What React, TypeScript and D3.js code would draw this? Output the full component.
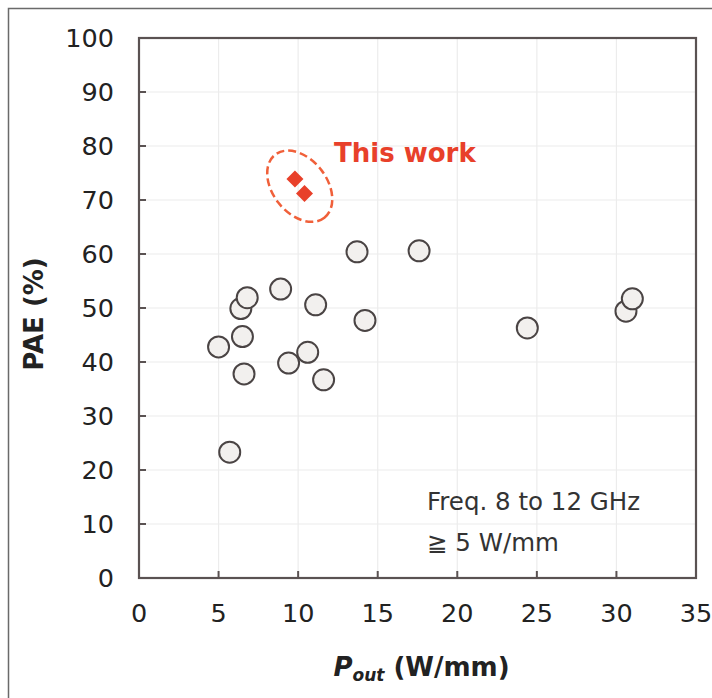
import React from 'react'
import { scaleLinear } from 'd3'

// reference devices (Pout W/mm, PAE %)
const otherPout = [5.0, 5.7, 6.4, 6.8, 6.5, 6.6, 8.9, 9.4, 10.6, 11.1, 11.6, 13.7, 14.2, 17.6, 24.4, 30.6, 31.0]
const otherPae = [42.8, 23.3, 49.9, 51.9, 44.7, 37.8, 53.5, 39.8, 41.8, 50.6, 36.7, 60.4, 47.7, 60.6, 46.3, 49.4, 51.7]

// this work
const thisPout = [9.8, 10.4]
const thisPae = [73.9, 71.2]

const xTicks = [0, 5, 10, 15, 20, 25, 30, 35]
const yTicks = [0, 10, 20, 30, 40, 50, 60, 70, 80, 90, 100]

const noteLines = ['Freq. 8 to 12 GHz', '\u2267 5 W/mm']

const W = 712
const H = 698
const margin = { left: 139, right: 16, top: 38, bottom: 120 }

const font = '"DejaVu Sans", sans-serif'
const axisColor = '#5a5252'
const red = '#e8402a'

function App() {
  const xScale = scaleLinear().domain([0, 35]).range([margin.left, W - margin.right])
  const yScale = scaleLinear().domain([0, 100]).range([H - margin.bottom, margin.top])

  const x0 = xScale(0), x1 = xScale(35)
  const y0 = yScale(0), y1 = yScale(100)

  const cx = xScale((thisPout[0] + thisPout[1]) / 2)
  const cy = yScale((thisPae[0] + thisPae[1]) / 2)

  return (
    <svg width={W} height={H} style={{ position: 'absolute', left: 0, top: 0, background: '#fff' }}>
      {/* outer frame */}
      <rect x={8.5} y={8.5} width={W + 20} height={H + 20} fill="none" stroke="#6a6a6a" strokeWidth={1.5} />

      {/* grid */}
      <g stroke="#ececec" strokeWidth={1.2}>
        {xTicks.slice(1, -1).map(t => (
          <line key={'gx' + t} x1={xScale(t)} x2={xScale(t)} y1={y0} y2={y1} />
        ))}
        {yTicks.slice(1, -1).map(t => (
          <line key={'gy' + t} x1={x0} x2={x1} y1={yScale(t)} y2={yScale(t)} />
        ))}
      </g>

      {/* ticks */}
      <g stroke={axisColor} strokeWidth={2}>
        {xTicks.slice(1, -1).map(t => (
          <line key={'tx' + t} x1={xScale(t)} x2={xScale(t)} y1={y0} y2={y0 - 7} />
        ))}
        {yTicks.slice(1, -1).map(t => (
          <line key={'ty' + t} x1={x0} x2={x0 + 7} y1={yScale(t)} y2={yScale(t)} />
        ))}
      </g>

      <rect x={x0} y={y1} width={x1 - x0} height={y0 - y1} fill="none" stroke={axisColor} strokeWidth={2.2} />

      {/* tick labels */}
      <g fontFamily={font} fontSize={25.5} fill="#222">
        {xTicks.map(t => (
          <text key={'lx' + t} x={xScale(t)} y={y0 + 44} textAnchor="middle">{t}</text>
        ))}
        {yTicks.map(t => (
          <text key={'ly' + t} x={x0 - 25} y={yScale(t)} dy="0.36em" textAnchor="end">{t}</text>
        ))}
      </g>

      {/* axis titles */}
      <text x={(x0 + x1) / 2 + 4} y={676} textAnchor="middle" fontFamily={font} fontWeight="bold" fontSize={26} fill="#222">
        <tspan fontStyle="italic">P</tspan>
        <tspan fontStyle="italic" fontSize={17} dy={5}>out</tspan>
        <tspan dy={-5}> (W/mm)</tspan>
      </text>
      <text transform={`translate(34,${(y0 + y1) / 2 + 6}) rotate(-90)`} textAnchor="middle" dy="0.36em"
        fontFamily={font} fontWeight="bold" fontSize={26} fill="#222">PAE (%)</text>

      {/* other devices */}
      <g fill="#f2f0ee" stroke="#4a4444" strokeWidth={2}>
        {otherPout.map((p, i) => (
          <circle key={'c' + i} cx={xScale(p)} cy={yScale(otherPae[i])} r={10.5} />
        ))}
      </g>

      {/* this work */}
      <ellipse cx={cx} cy={cy} rx={40} ry={27} transform={`rotate(52,${cx},${cy})`}
        fill="none" stroke="#f0603a" strokeWidth={2.5} strokeDasharray="8 4" />
      <g fill={red}>
        {thisPout.map((p, i) => {
          const px = xScale(p), py = yScale(thisPae[i]), s = 8.5
          return <path key={'d' + i} d={`M${px},${py - s}L${px + s},${py}L${px},${py + s}L${px - s},${py}Z`} />
        })}
      </g>
      <text x={334} y={162} fontFamily={font} fontWeight="bold" fontSize={26} fill={red}>This work</text>

      {/* note */}
      <g fontFamily={font} fontSize={24.5} fill="#333">
        {noteLines.map((s, i) => (
          <text key={'n' + i} x={427} y={510 + i * 41}>{s}</text>
        ))}
      </g>
    </svg>
  )
}

export default App
